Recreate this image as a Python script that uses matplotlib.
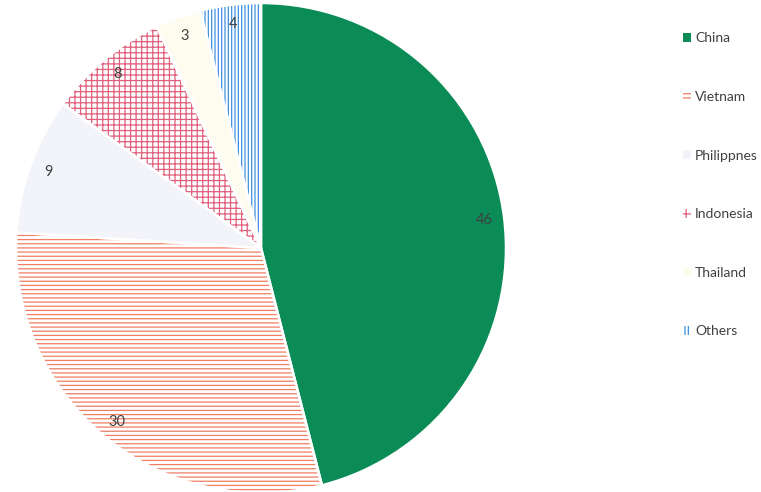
import numpy as np
import matplotlib.pyplot as plt
import matplotlib as mpl

# Values
countries = ["China", "Vietnam", "Philippnes", "Indonesia", "Thailand", "Others"]
shares = [46, 30, 9, 8, 3, 4]

face_colors = ["#0b8c57", "white", "#f2f4fa", "white", "#fdfcee", "white"]
hatch_colors = ["#0b8c57", "#ef7e62", "#f2f4fa", "#e0617c", "#fdfcee", "#3d8fe0"]
hatches = [None, "----", None, "+++", None, "|||||"]

plt.rcParams["font.family"] = ["Lato", "DejaVu Sans"]
plt.rcParams["hatch.linewidth"] = 0.9

fig = plt.figure(figsize=(7.61, 4.92), dpi=100)
# square axes holding the pie, placed in pixels
ax = fig.add_axes([16 / 761, -1 / 492, 490 / 761, 490 / 492])

wedges, _ = ax.pie(shares, startangle=90, counterclock=False,
                   colors=face_colors, radius=1.0)
for w, hc, h in zip(wedges, hatch_colors, hatches):
    w.set_edgecolor(hc)
    w.set_linewidth(0)
    if h:
        w.set_hatch(h)

# white separators between slices
ax.pie(shares, startangle=90, counterclock=False, radius=1.0,
       wedgeprops=dict(fill=False, edgecolor="white", linewidth=1.8))

# value labels inside the slices
for w, v in zip(wedges, shares):
    mid = np.deg2rad((w.theta1 + w.theta2) / 2)
    r = 0.92
    ax.text(r * np.cos(mid), r * np.sin(mid), str(v), ha="center", va="center",
            fontsize=10.5, color="#404040")

ax.set_xlim(-1, 1)
ax.set_ylim(-1, 1)
ax.set_aspect("equal")
ax.axis("off")

leg = fig.legend(wedges, countries, loc="upper left",
                 bbox_to_anchor=(670 / 761, 1 - 20 / 492), frameon=False,
                 fontsize=10, handlelength=0.6, handleheight=0.6,
                 handletextpad=0.3, labelspacing=3.35, labelcolor="#404040")

fig.savefig("out.png", dpi=100)
